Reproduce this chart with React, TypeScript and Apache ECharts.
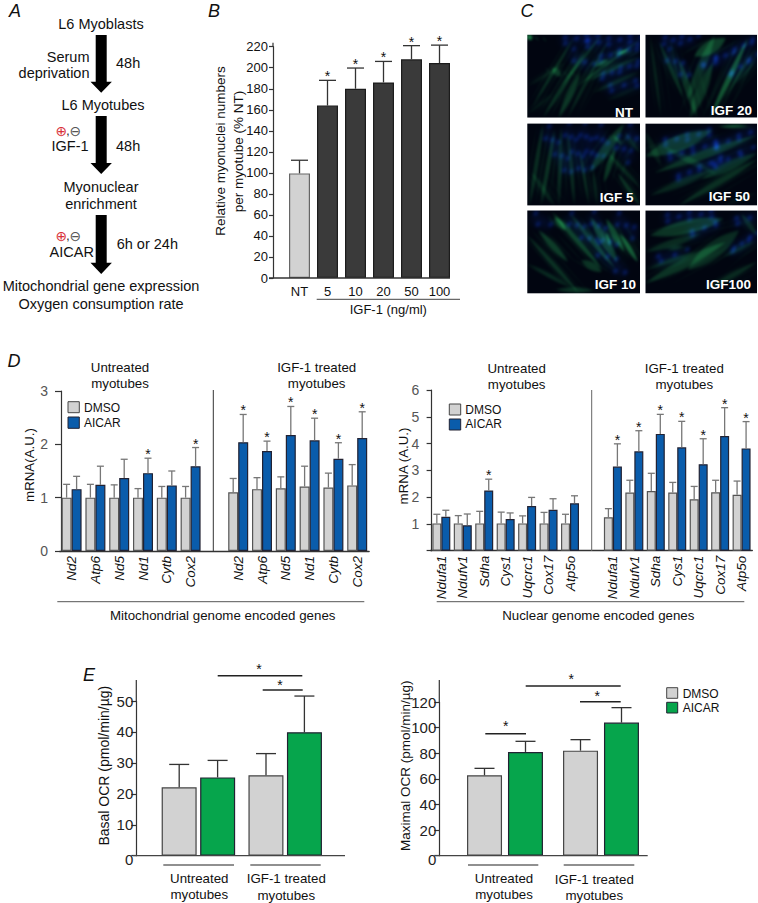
import React, { useEffect, useRef } from "react";
import * as echarts from "echarts";

const FONT = "'Liberation Sans', Arial, sans-serif";

// Panel B
const bCats = ["NT", "5", "10", "20", "50", "100"];
const bMeans = [99.5, 164, 180, 186, 208, 204.5];
const bCaps = [112, 188, 199.7, 206, 221, 221.5];
const bStars = [0, 1, 1, 1, 1, 1];

// Panel D, mitochondrial genes (the blank category is the gap between groups)
const d1Cats = ["Nd2", "Atp6", "Nd5", "Nd1", "Cytb", "Cox2", "", "Nd2", "Atp6", "Nd5", "Nd1", "Cytb", "Cox2"];
const d1Dmso = [1, 1, 1, 1, 1, 1, null, 1.1, 1.16, 1.175, 1.21, 1.19, 1.23];
const d1DmsoCap = [1.25, 1.25, 1.24, 1.17, 1.21, 1.21, null, 1.36, 1.375, 1.39, 1.59, 1.46, 1.62];
const d1Aicar = [1.16, 1.24, 1.37, 1.46, 1.23, 1.59, null, 2.04, 1.875, 2.175, 2.075, 1.73, 2.12];
const d1AicarCap = [1.4, 1.59, 1.72, 1.74, 1.5, 1.94, null, 2.56, 2.06, 2.71, 2.49, 2.03, 2.61];
const d1Stars = [0, 0, 0, 1, 0, 1, 0, 1, 1, 1, 1, 1, 1];

// Panel D, nuclear genes
const d2Cats = ["Ndufa1", "Ndufv1", "Sdha", "Cys1", "Uqcrc1", "Cox17", "Atp5o", "", "Ndufa1", "Ndufv1", "Sdha", "Cys1", "Uqcrc1", "Cox17", "Atp5o"];
const d2Dmso = [1.02, 1.02, 1.02, 1.02, 1.02, 1.02, 1.02, null, 1.25, 2.17, 2.23, 2.17, 1.92, 2.18, 2.09];
const d2DmsoCap = [1.36, 1.31, 1.47, 1.44, 1.3, 1.43, 1.36, null, 1.57, 2.63, 2.89, 2.55, 2.4, 2.63, 2.6];
const d2Aicar = [1.27, 0.95, 2.25, 1.18, 1.67, 1.53, 1.77, null, 3.14, 3.71, 4.36, 3.86, 3.23, 4.28, 3.82];
const d2AicarCap = [1.51, 1.37, 2.67, 1.41, 1.99, 1.94, 2.05, null, 3.99, 4.48, 5.09, 4.83, 4.18, 5.34, 4.82];
const d2Stars = [0, 0, 1, 0, 0, 0, 0, 0, 1, 1, 1, 1, 1, 1, 1];

// Panel E
const eCats = ["Untreated myotubes", "IGF-1 treated myotubes"];
const e1Dmso = [22.1, 26];
const e1DmsoCap = [29.5, 33];
const e1Aicar = [25.3, 39.9];
const e1AicarCap = [30.8, 51.6];
const e2Dmso = [62.8, 82];
const e2DmsoCap = [68.2, 90.6];
const e2Aicar = [81, 103.9];
const e2AicarCap = [89.3, 115.6];

// Micrographs of panel C: fibres [x0,y0,x1,y1,width,alpha] and rows of nuclei [x0,y0,x1,y1,count], in % of the tile
type Tile = { label: string; fibres: number[][]; nuclei: number[][] };
const tiles: Tile[] = [
  {
    label: "NT",
    fibres: [
      [4, 88, 42, 2, 3, 0.4], [14, 100, 52, 18, 4, 0.4], [28, 100, 47, 45, 6, 0.42], [30, 62, 66, 0, 3, 0.4],
      [36, 100, 72, 6, 3, 0.32], [44, 62, 100, 6, 3, 0.42], [52, 56, 100, 26, 3, 0.4], [58, 70, 100, 44, 3, 0.34],
      [0, 62, 34, 34, 3, 0.22], [22, 40, 30, 50, 6, 0.4], [60, 38, 72, 30, 4, 0.55], [78, 24, 90, 18, 3, 0.8],
      [0, 96, 24, 70, 2, 0.25], [70, 80, 100, 62, 2, 0.22], [0, 0, 4, 6, 5, 1],
    ],
    nuclei: [[50, 12, 100, 4, 9], [62, 30, 100, 14, 8], [64, 52, 100, 34, 8], [30, 8, 62, 2, 6], [70, 66, 100, 58, 5], [38, 22, 56, 40, 4]],
  },
  {
    label: "IGF 5",
    fibres: [
      [2, 100, 14, 0, 4, 0.36], [12, 100, 24, 8, 4, 0.38], [28, 100, 30, 4, 4, 0.32], [42, 100, 36, 10, 4, 0.3],
      [55, 100, 46, 30, 3, 0.34], [55, 60, 86, 0, 9, 0.4], [68, 72, 78, 28, 5, 0.45], [80, 60, 100, 100, 4, 0.42],
      [70, 34, 100, 78, 3, 0.36], [62, 100, 58, 56, 3, 0.28], [86, 10, 100, 36, 3, 0.3], [76, 14, 84, 26, 3, 0.5],
      [4, 60, 24, 100, 5, 0.25],
    ],
    nuclei: [[16, 8, 38, 60, 9], [34, 4, 50, 58, 9], [48, 4, 60, 50, 8], [62, 6, 70, 36, 5], [88, 6, 100, 26, 4], [78, 20, 92, 44, 5]],
  },
  {
    label: "IGF 10",
    fibres: [
      [0, 30, 46, 100, 4, 0.42], [22, 2, 66, 70, 5, 0.55], [10, 24, 36, 62, 6, 0.5], [38, 4, 78, 70, 5, 0.4],
      [56, 8, 80, 62, 8, 0.48], [70, 10, 86, 50, 6, 0.6], [82, 28, 98, 62, 5, 0.7], [0, 64, 40, 94, 3, 0.32],
      [26, 96, 58, 96, 5, 0.32], [48, 60, 66, 74, 7, 0.42], [24, 8, 34, 24, 5, 0.65], [70, 26, 74, 42, 3, 0.6],
    ],
    nuclei: [[36, 8, 58, 40, 7], [56, 6, 76, 46, 7], [78, 8, 96, 30, 5], [4, 8, 20, 18, 3], [60, 44, 86, 76, 6]],
  },
  {
    label: "IGF 20",
    fibres: [
      [4, 0, 14, 100, 3, 0.28], [12, 8, 34, 76, 4, 0.36], [30, 30, 46, 100, 6, 0.38], [38, 78, 62, 0, 8, 0.34],
      [44, 26, 72, 4, 12, 0.5], [58, 100, 92, 4, 5, 0.7], [40, 100, 60, 34, 10, 0.38], [70, 78, 100, 14, 3, 0.3],
      [22, 4, 30, 60, 2, 0.25], [80, 60, 100, 30, 2, 0.3],
    ],
    nuclei: [[14, 8, 44, 6, 7], [18, 22, 38, 50, 6], [60, 34, 98, 6, 8], [74, 50, 100, 24, 6], [48, 40, 62, 28, 3]],
  },
  {
    label: "IGF 50",
    fibres: [
      [0, 40, 60, 8, 14, 0.42], [8, 60, 100, 14, 7, 0.42], [16, 28, 64, 62, 5, 0.24], [30, 100, 100, 44, 6, 0.38],
      [4, 88, 62, 56, 6, 0.3], [50, 68, 100, 36, 8, 0.36], [66, 4, 92, 2, 2, 0.7], [70, 100, 100, 84, 3, 0.15],
      [0, 10, 14, 52, 6, 0.2],
    ],
    nuclei: [[14, 24, 60, 10, 8], [18, 42, 66, 24, 8], [60, 30, 100, 8, 7], [26, 68, 70, 42, 8], [58, 54, 96, 30, 6]],
  },
  {
    label: "IGF100",
    fibres: [
      [4, 30, 70, 10, 13, 0.42], [0, 50, 50, 28, 6, 0.34], [0, 88, 72, 38, 9, 0.42], [38, 72, 84, 24, 15, 0.34],
      [0, 72, 44, 50, 3, 0.4], [54, 96, 100, 62, 5, 0.34], [70, 56, 100, 36, 3, 0.32], [86, 4, 100, 30, 5, 0.3],
      [20, 48, 34, 42, 2, 0.5],
    ],
    nuclei: [[16, 10, 62, 4, 8], [38, 30, 66, 14, 5], [78, 14, 100, 8, 4], [76, 50, 100, 28, 6], [8, 60, 34, 52, 4]],
  },
];

function spindle(g: CanvasRenderingContext2D, x0: number, y0: number, x1: number, y1: number, lw: number) {
  const dx = x1 - x0;
  const dy = y1 - y0;
  const len = Math.hypot(dx, dy) || 1;
  const nx = (-dy / len) * lw;
  const ny = (dx / len) * lw;
  const mx = (x0 + x1) / 2;
  const my = (y0 + y1) / 2;
  g.beginPath();
  g.moveTo(x0, y0);
  g.quadraticCurveTo(mx + nx, my + ny, x1, y1);
  g.quadraticCurveTo(mx - nx, my - ny, x0, y0);
  g.fill();
}

function paintTile(tile: Tile, w: number, h: number): string {
  const c = document.createElement("canvas");
  c.width = w * 2;
  c.height = h * 2;
  const g = c.getContext("2d") as CanvasRenderingContext2D;
  g.scale(2, 2);
  g.fillStyle = "#010510";
  g.fillRect(0, 0, w, h);
  g.globalCompositeOperation = "lighter";
  (g as any).filter = "blur(8px)";
  tile.nuclei.forEach(([x0, y0, x1, y1]) => {
    g.strokeStyle = "rgba(6,26,90,0.3)";
    g.lineWidth = 10;
    g.beginPath();
    g.moveTo((x0 / 100) * w, (y0 / 100) * h);
    g.lineTo((x1 / 100) * w, (y1 / 100) * h);
    g.stroke();
  });
  (g as any).filter = "blur(3px)";
  tile.nuclei.forEach(([x0, y0, x1, y1, n]) => {
    for (let i = 0; i < n; i++) {
      const f = n > 1 ? i / (n - 1) : 0;
      const sway = i % 3 === 0 ? 4 : i % 3 === 1 ? -3 : 1;
      const x = ((x0 + (x1 - x0) * f) / 100) * w + sway;
      const y = ((y0 + (y1 - y0) * f) / 100) * h - sway;
      g.fillStyle = "rgba(12,44,160,0.42)";
      g.beginPath();
      g.ellipse(x, y, 3, 2, -0.8, 0, Math.PI * 2);
      g.fill();
    }
  });
  (g as any).filter = "blur(2.5px)";
  tile.fibres.forEach(([x0, y0, x1, y1, lw, a]) => {
    const px0 = (x0 / 100) * w;
    const py0 = (y0 / 100) * h;
    const px1 = (x1 / 100) * w;
    const py1 = (y1 / 100) * h;
    g.fillStyle = `rgba(34,150,66,${a * 0.75})`;
    spindle(g, px0, py0, px1, py1, lw * 1.1);
    g.fillStyle = `rgba(28,120,60,${a * 0.4})`;
    spindle(g, px0 + lw + 2, py0 + 1, px1 + lw + 2, py1 + 1, 1.4);
    spindle(g, px0 - lw - 2, py0 - 1, px1 - lw - 2, py1 - 1, 1.4);
    spindle(g, px0 + 2 * lw + 5, py0 + 2, px1 + 2 * lw + 5, py1 + 2, 1);
  });
  return c.toDataURL("image/png");
}

const txt = (text: string, x: number, y: number, o: any = {}) => ({
  type: "text",
  x,
  y,
  rotation: o.rotation || 0,
  z: 20,
  silent: true,
  style: {
    text,
    fill: o.fill || "#111",
    fontSize: o.size || 13.3,
    fontFamily: o.family || FONT,
    fontStyle: o.italic ? "italic" : "normal",
    fontWeight: o.bold ? "bold" : "normal",
    align: o.align || "center",
    textAlign: o.align || "center",
    verticalAlign: "middle",
    textVerticalAlign: "middle",
  },
});
const ln = (x1: number, y1: number, x2: number, y2: number, stroke = "#333", lineWidth = 1.2) => ({
  type: "line",
  z: 15,
  silent: true,
  shape: { x1, y1, x2, y2 },
  style: { stroke, lineWidth },
});
const box = (x: number, y: number, width: number, height: number, fill: string, stroke = "#444") => ({
  type: "rect",
  z: 15,
  silent: true,
  shape: { x, y, width, height },
  style: { fill, stroke, lineWidth: 1 },
});
const arrow = (cx: number, y0: number, y1: number, tip: number) => ({
  type: "polygon",
  z: 15,
  silent: true,
  shape: {
    points: [[cx - 5.5, y0], [cx + 5.5, y0], [cx + 5.5, y1], [cx + 10.7, y1], [cx, tip], [cx - 10.7, y1], [cx - 5.5, y1]],
  },
  style: { fill: "#000" },
});

function errorSeries(name: string, axis: number, means: (number | null)[], caps: (number | null)[], stars: number[] | null, dx: number, capW: number, color: string) {
  const rows: number[][] = [];
  means.forEach((m, i) => {
    if (m !== null) rows.push([i, m, caps[i] as number, stars ? stars[i] : 0]);
  });
  return {
    type: "custom",
    name,
    xAxisIndex: axis,
    yAxisIndex: axis,
    silent: true,
    z: 5,
    encode: { x: 0, y: 1 },
    data: rows,
    renderItem: (_p: any, api: any) => {
      const a = api.coord([api.value(0), api.value(1)]);
      const b = api.coord([api.value(0), api.value(2)]);
      const x = a[0] + dx;
      const stroke = { stroke: color, lineWidth: 1.3 };
      const children: any[] = [
        { type: "line", shape: { x1: x, y1: a[1], x2: x, y2: b[1] }, style: stroke },
        { type: "line", shape: { x1: x - capW / 2, y1: b[1], x2: x + capW / 2, y2: b[1] }, style: stroke },
      ];
      if (api.value(3)) {
        children.push({
          type: "text",
          x,
          y: b[1] - 4,
          style: { text: "*", fill: "#111", fontSize: 14, fontFamily: FONT, align: "center", textAlign: "center", verticalAlign: "middle", textVerticalAlign: "middle" },
        });
      }
      return { type: "group", children };
    },
  };
}

const barItem = (fill: string, stroke: string) => ({ color: fill, borderColor: stroke, borderWidth: 1.2 });
const GRAY = "#d2d2d2";
const BLUE = "#0a5cab";
const GREEN = "#06a54c";

function bar(name: string, axis: number, data: any[], width: number, gap: string, item: any) {
  return { type: "bar", name, xAxisIndex: axis, yAxisIndex: axis, data, barWidth: width, barGap: gap, itemStyle: item, z: 3 };
}

const zeroRich = { z: { fontSize: 15, fontFamily: FONT, color: "#222", padding: [7, 0, 0, 0] } };

function yAxis(gridIndex: number, o: any) {
  return {
    type: "value",
    gridIndex,
    min: 0,
    max: o.max,
    interval: o.interval,
    offset: o.offset,
    splitLine: { show: false },
    axisLine: { show: true, onZero: false, lineStyle: { color: "#333", width: 1.2 } },
    axisTick: { show: true, length: o.tick, lineStyle: { color: "#333", width: 1.2 } },
    axisLabel: { color: o.color, fontSize: o.size, fontFamily: FONT, margin: o.margin, formatter: o.formatter, rich: o.rich },
  };
}
function xAxis(gridIndex: number, data: string[], o: any = {}) {
  return {
    type: "category",
    gridIndex,
    data,
    axisTick: { show: false },
    axisLine: { show: !!o.line, onZero: false, lineStyle: { color: "#333", width: 1.4 } },
    axisLabel: o.labels
      ? { show: true, interval: 0, rotate: o.rotate || 0, fontStyle: o.italic ? "italic" : "normal", fontFamily: FONT, fontSize: o.size || 13, color: "#111", margin: o.margin }
      : { show: false },
  };
}

function buildOption() {
  const els: any[] = [];
  // panel letters
  [["A", 15, 11], ["B", 214, 11], ["C", 527, 11], ["D", 14, 361], ["E", 89, 675]].forEach(([l, x, y]) =>
    els.push(txt(l as string, x as number, y as number, { size: 18, italic: true }))
  );
  // panel A flow
  const A = 14.5;
  els.push(
    txt("L6 Myoblasts", 101, 24, { size: A }),
    arrow(101.2, 35, 81.7, 92.7),
    txt("Serum", 89.5, 56.7, { size: A, align: "right" }),
    txt("deprivation", 89.5, 72.7, { size: A, align: "right" }),
    txt("48h", 116, 63, { size: A, align: "left" }),
    txt("L6 Myotubes", 103, 105, { size: A }),
    arrow(101.2, 116, 163, 174),
    txt("⊕", 61.3, 130.5, { size: 14, fill: "#d9303a", family: "'DejaVu Sans'" }),
    txt(",", 68, 130.5, { size: 12 }),
    txt("⊖", 75.3, 130.5, { size: 14, fill: "#555", family: "'DejaVu Sans'" }),
    txt("IGF-1", 70, 145.7, { size: A }),
    txt("48h", 116, 146, { size: A, align: "left" }),
    txt("Myonuclear", 101, 187, { size: A }),
    txt("enrichment", 101, 204, { size: A }),
    arrow(101.2, 215, 262.7, 274),
    txt("⊕", 61.3, 235.5, { size: 14, fill: "#d9303a", family: "'DejaVu Sans'" }),
    txt(",", 68, 235.5, { size: 12 }),
    txt("⊖", 75.3, 235.5, { size: 14, fill: "#555", family: "'DejaVu Sans'" }),
    txt("AICAR", 71.7, 251.7, { size: A }),
    txt("6h or 24h", 116.7, 244, { size: A, align: "left" }),
    txt("Mitochondrial gene expression", 101, 286, { size: A }),
    txt("Oxygen consumption rate", 101, 304, { size: A })
  );
  // panel B furniture
  els.push(
    txt("Relative myonuclei numbers", 220.7, 151, { size: 13.5, rotation: Math.PI / 2 }),
    txt("per myotube (% NT)", 238.3, 151.5, { size: 13.5, rotation: Math.PI / 2 }),
    ln(273, 42.7, 273, 47),
    ln(269, 278, 450, 278, "#333", 1.4),
    ln(316.7, 299.3, 460, 299.3, "#444", 1),
    txt("IGF-1 (ng/ml)", 388.3, 309.7, { size: 13 })
  );
  // panel C tiles
  const cols = [{ x: 527.3, w: 112.7 }, { x: 645.5, w: 111.5 }];
  const rows = [{ y: 34.5, h: 83.3 }, { y: 123.3, h: 82.4 }, { y: 210.5, h: 82.8 }];
  const right = [[633, 112], [633.5, 197.7], [636, 284.3], [752, 110], [750, 196.7], [751, 284]];
  tiles.forEach((t, i) => {
    const col = cols[i < 3 ? 0 : 1];
    const row = rows[i % 3];
    els.push({
      type: "image",
      z: 10,
      silent: true,
      style: { image: paintTile(t, Math.round(col.w), Math.round(row.h)), x: col.x, y: row.y, width: col.w, height: row.h },
    });
    els.push(txt(t.label, right[i][0], right[i][1], { size: 13.5, bold: true, fill: "#fff", align: "right" }));
  });
  // panel D furniture
  els.push(
    txt("Untreated", 120, 367), txt("myotubes", 120, 383),
    txt("IGF-1 treated", 316.7, 367), txt("myotubes", 316.7, 383),
    ln(213.3, 390, 213.3, 551, "#333", 1),
    txt("mRNA(A.U.)", 29.3, 465, { rotation: Math.PI / 2 }),
    box(68, 401.7, 11.3, 11, GRAY), box(68, 417, 11.3, 11.3, BLUE, "#223"),
    txt("DMSO", 84, 408.3, { size: 12, align: "left" }),
    txt("AICAR", 84, 422.7, { size: 12, align: "left" }),
    ln(57.3, 601.7, 364.3, 601.7, "#555", 1),
    txt("Mitochondrial genome encoded genes", 222.7, 615),
    txt("Untreated", 516.7, 368), txt("myotubes", 516.7, 384),
    txt("IGF-1 treated", 684.3, 368), txt("myotubes", 684.3, 384),
    ln(591.7, 390, 591.7, 551, "#666", 1),
    txt("mRNA (A.U.)", 403.3, 466, { rotation: Math.PI / 2 }),
    box(449.3, 404, 11.4, 11, GRAY), box(449.3, 419, 11.4, 11, BLUE, "#223"),
    txt("DMSO", 465.3, 410, { size: 12, align: "left" }),
    txt("AICAR", 465.3, 424.3, { size: 12, align: "left" }),
    ln(436.7, 601.7, 744.3, 601.7, "#555", 1),
    txt("Nuclear genome encoded genes", 598.3, 615)
  );
  // panel E furniture
  const star = (x: number, y: number) => txt("*", x, y + 2, { size: 14 });
  els.push(
    txt("Basal OCR (pmol/min/µg)", 104.3, 765.7, { size: 14, rotation: Math.PI / 2 }),
    ln(136.3, 680, 136.3, 701.5), ln(133, 855.7, 345, 855.7, "#444", 1.3),
    ln(217.7, 675.7, 302.3, 675.7, "#222", 1.4), star(259, 667),
    ln(262.7, 690, 302.7, 690, "#222", 1.4), star(280, 683),
    ln(163.3, 865, 234, 865, "#222", 1.2), ln(250.3, 865, 320.7, 865, "#222", 1.2),
    txt("Untreated", 199.3, 878.3), txt("myotubes", 199.3, 894.3),
    txt("IGF-1 treated", 286.3, 878.7), txt("myotubes", 286.3, 895),
    txt("Maximal OCR (pmol/min/µg)", 405, 765.7, { size: 13.5, rotation: Math.PI / 2 }),
    ln(439.3, 680, 439.3, 702), ln(435, 855.7, 647.7, 855.7, "#444", 1.3),
    ln(525.7, 686, 620.7, 686, "#222", 1.4), star(571.3, 676.7),
    ln(580, 701.7, 620.7, 701.7, "#222", 1.4), star(597.3, 694),
    ln(485.3, 733.7, 526, 733.7, "#222", 1.4), star(505.7, 723.7),
    ln(468, 865, 538.3, 865, "#222", 1.2), ln(563.7, 865, 634.3, 865, "#222", 1.2),
    txt("Untreated", 504, 878), txt("myotubes", 504, 894),
    txt("IGF-1 treated", 594.3, 879), txt("myotubes", 594.3, 895),
    box(666.7, 687.7, 11, 10.6, GRAY), box(666.7, 702.3, 11, 10.7, GREEN, "#223"),
    txt("DMSO", 682.7, 693.5, { size: 12, align: "left" }),
    txt("AICAR", 682.7, 708, { size: 12, align: "left" })
  );

  const bData = bMeans.map((v, i) => ({ value: v, itemStyle: i === 0 ? barItem(GRAY, "#666") : barItem("#3a3a3a", "#1c1c1c") }));
  return {
    animation: false,
    grid: [
      { left: 285.5, top: 46.7, width: 168, height: 231.3 },
      { left: 59.7, top: 391, width: 309.4, height: 160 },
      { left: 430.6, top: 390, width: 321.7, height: 160.7 },
      { left: 155, top: 701, width: 173.6, height: 154.7 },
      { left: 457, top: 702, width: 192, height: 153.7 },
    ],
    xAxis: [
      xAxis(0, bCats, { labels: true, margin: 7 }),
      xAxis(1, d1Cats, { labels: true, line: true, rotate: 90, italic: true, margin: 5, size: 13.5 }),
      xAxis(2, d2Cats, { labels: true, line: true, rotate: 90, italic: true, margin: 5, size: 13.5 }),
      xAxis(3, eCats),
      xAxis(4, eCats),
    ],
    yAxis: [
      yAxis(0, { max: 220, interval: 20, offset: 12.5, tick: 4, margin: 5, size: 13, color: "#111" }),
      yAxis(1, { max: 3, interval: 1, offset: -1.3, tick: 6, margin: 13, size: 14, color: "#555" }),
      yAxis(2, { max: 6, interval: 1, offset: -1, tick: 5, margin: 12.4, size: 14, color: "#555", formatter: (v: number) => (v === 0 ? "" : String(v)) }),
      yAxis(3, { max: 50, interval: 10, offset: 18.7, tick: 5, margin: 3, size: 15, color: "#222", rich: zeroRich, formatter: (v: number) => (v === 0 ? "{z|0}" : String(v)) }),
      yAxis(4, { max: 120, interval: 20, offset: 17.7, tick: 5, margin: 3, size: 15, color: "#222", rich: zeroRich, formatter: (v: number) => (v === 0 ? "{z|0}" : String(v)) }),
    ],
    graphic: { elements: els },
    series: [
      bar("Myonuclei", 0, bData, 21, "0%", {}),
      errorSeries("Myonuclei SD", 0, bMeans, bCaps, bStars, 0, 17, "#333"),
      bar("DMSO", 1, d1Dmso, 10, "0%", barItem(GRAY, "#555")),
      bar("AICAR", 1, d1Aicar, 10, "0%", barItem(BLUE, "#223")),
      errorSeries("DMSO SD", 1, d1Dmso, d1DmsoCap, null, -5, 7, "#777"),
      errorSeries("AICAR SD", 1, d1Aicar, d1AicarCap, d1Stars, 5, 7, "#777"),
      bar("DMSO", 2, d2Dmso, 9, "0%", barItem(GRAY, "#555")),
      bar("AICAR", 2, d2Aicar, 9, "0%", barItem(BLUE, "#223")),
      errorSeries("DMSO SD", 2, d2Dmso, d2DmsoCap, null, -4.5, 7, "#777"),
      errorSeries("AICAR SD", 2, d2Aicar, d2AicarCap, d2Stars, 4.5, 7, "#777"),
      bar("DMSO", 3, e1Dmso, 35, "10%", barItem(GRAY, "#444")),
      bar("AICAR", 3, e1Aicar, 35, "10%", barItem(GREEN, "#223")),
      errorSeries("DMSO SD", 3, e1Dmso, e1DmsoCap, null, -19.2, 20, "#333"),
      errorSeries("AICAR SD", 3, e1Aicar, e1AicarCap, null, 19.2, 20, "#333"),
      bar("DMSO", 4, e2Dmso, 35, "17%", barItem(GRAY, "#444")),
      bar("AICAR", 4, e2Aicar, 35, "17%", barItem(GREEN, "#223")),
      errorSeries("DMSO SD", 4, e2Dmso, e2DmsoCap, null, -20.5, 20, "#333"),
      errorSeries("AICAR SD", 4, e2Aicar, e2AicarCap, null, 20.5, 20, "#333"),
    ],
  };
}

export default function App() {
  const ref = useRef<HTMLDivElement>(null);
  useEffect(() => {
    const chart = echarts.init(ref.current as HTMLDivElement, undefined, { renderer: "svg" });
    chart.setOption(buildOption() as any);
    return () => chart.dispose();
  }, []);
  return <div ref={ref} style={{ position: "absolute", left: 0, top: 0, width: 758, height: 903, background: "#fff" }} />;
}
